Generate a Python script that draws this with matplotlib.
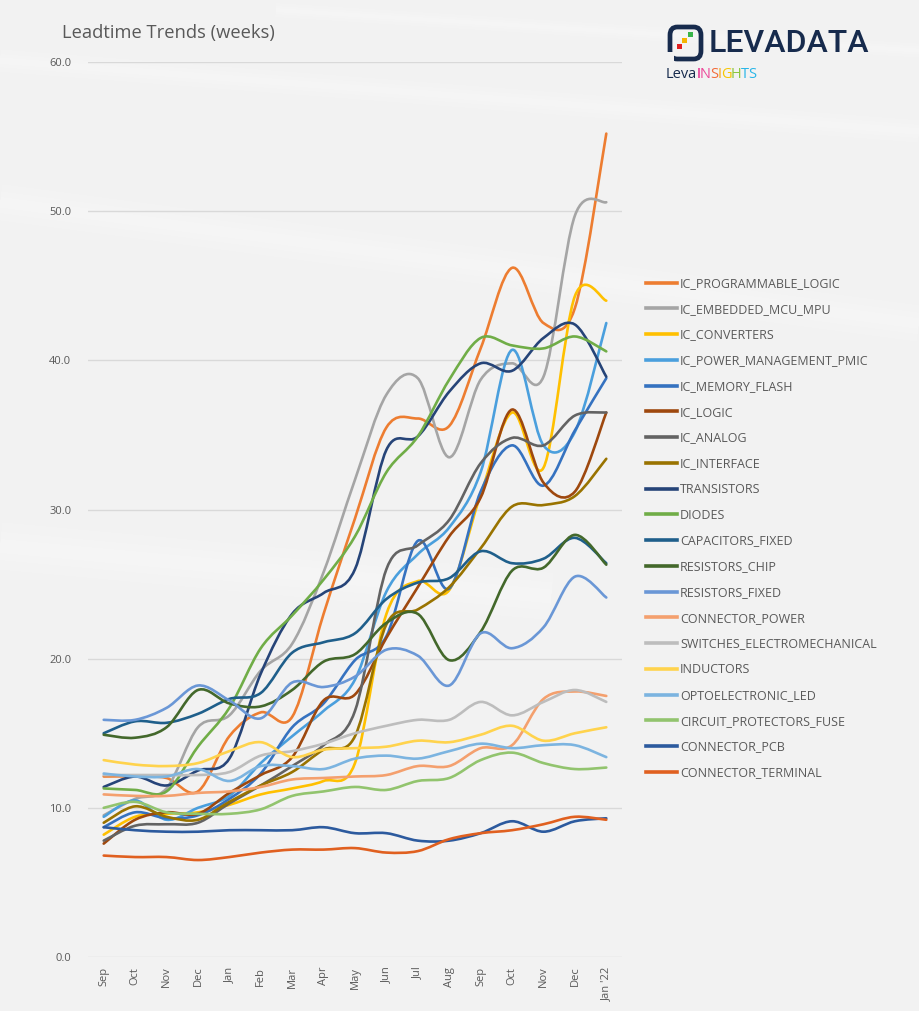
import numpy as np
import matplotlib
matplotlib.use('Agg')
import matplotlib.pyplot as plt
from matplotlib.path import Path
from matplotlib.patches import PathPatch, FancyBboxPatch, Rectangle
from matplotlib.lines import Line2D
from matplotlib.offsetbox import TextArea, HPacker, AnnotationBbox

plt.rcParams['font.family'] = ['Open Sans', 'DejaVu Sans']

months = ['Sep', 'Oct', 'Nov', 'Dec', 'Jan', 'Feb', 'Mar', 'Apr', 'May', 'Jun',
          'Jul', 'Aug', 'Sep', 'Oct', 'Nov', 'Dec', "Jan '22"]

names = ['IC_PROGRAMMABLE_LOGIC', 'IC_EMBEDDED_MCU_MPU', 'IC_CONVERTERS',
         'IC_POWER_MANAGEMENT_PMIC', 'IC_MEMORY_FLASH', 'IC_LOGIC', 'IC_ANALOG',
         'IC_INTERFACE', 'TRANSISTORS', 'DIODES', 'CAPACITORS_FIXED',
         'RESISTORS_CHIP', 'RESISTORS_FIXED', 'CONNECTOR_POWER',
         'SWITCHES_ELECTROMECHANICAL', 'INDUCTORS', 'OPTOELECTRONIC_LED',
         'CIRCUIT_PROTECTORS_FUSE', 'CONNECTOR_PCB', 'CONNECTOR_TERMINAL']

colors = ['#ED7D31', '#A5A5A5', '#FFC000', '#4A9FDD', '#3572C0', '#9E480E',
          '#636363', '#997300', '#264478', '#70AD47', '#1F5F8B', '#43682B',
          '#6A97D6', '#F4A06E', '#BDBDBD', '#FFD34D', '#7CB4E0', '#92C46E',
          '#2C5A9E', '#E06020']

# weeks, one value per month
ic_programmable_logic = [12.1, 12.1, 12.0, 11.1, 14.8, 16.4, 16.1, 23.0, 29.4, 35.5, 36.1, 35.6, 40.8, 46.2, 42.5, 43.5, 55.2]
ic_embedded_mcu_mpu = [9.5, 10.6, 11.3, 15.4, 16.2, 19.2, 21.0, 25.8, 32.0, 37.7, 38.8, 33.5, 38.7, 39.8, 38.9, 49.7, 50.6]
ic_converters = [8.2, 9.4, 9.6, 9.7, 10.2, 10.9, 11.3, 11.8, 13.0, 23.0, 25.2, 24.6, 31.0, 36.5, 32.8, 44.3, 44.0]
ic_power_management_pmic = [9.4, 10.5, 9.2, 10.0, 10.8, 13.0, 14.8, 16.5, 18.6, 24.5, 27.0, 28.8, 32.5, 40.7, 34.3, 35.2, 42.5]
ic_memory_flash = [8.7, 9.7, 9.3, 9.5, 10.6, 12.3, 15.4, 17.0, 19.9, 21.5, 27.9, 24.7, 31.2, 34.3, 31.6, 35.3, 38.8]
ic_logic = [7.6, 9.2, 9.7, 9.6, 11.0, 12.2, 13.4, 17.2, 17.6, 21.4, 24.8, 28.2, 30.8, 36.7, 31.8, 31.2, 36.5]
ic_analog = [7.8, 8.8, 8.9, 9.0, 10.3, 11.5, 12.8, 14.2, 16.5, 26.0, 27.6, 29.3, 33.1, 34.8, 34.3, 36.3, 36.5]
ic_interface = [9.0, 10.1, 9.4, 9.2, 10.4, 11.5, 12.4, 13.9, 14.8, 22.3, 23.3, 24.8, 27.4, 30.2, 30.3, 30.9, 33.4]
transistors = [11.4, 12.1, 11.5, 12.5, 13.3, 19.0, 23.0, 24.4, 26.0, 34.0, 34.9, 37.9, 39.8, 39.3, 41.5, 42.4, 38.9]
diodes = [11.3, 11.2, 11.1, 14.1, 16.7, 20.7, 22.9, 25.3, 28.2, 32.5, 34.9, 38.7, 41.5, 41.0, 40.8, 41.6, 40.6]
capacitors_fixed = [15.0, 15.8, 15.7, 16.3, 17.3, 17.7, 20.4, 21.1, 21.7, 24.0, 25.1, 25.4, 27.2, 26.4, 26.7, 28.1, 26.4]
resistors_chip = [14.9, 14.7, 15.4, 17.9, 17.0, 16.8, 17.9, 19.8, 20.3, 22.4, 23.0, 19.9, 21.8, 25.9, 26.1, 28.3, 26.3]
resistors_fixed = [15.9, 15.9, 16.7, 18.2, 17.2, 16.0, 18.4, 18.1, 18.8, 20.6, 20.2, 18.2, 21.7, 20.7, 22.1, 25.5, 24.1]
connector_power = [10.9, 10.8, 10.8, 11.0, 11.1, 11.4, 11.9, 12.0, 12.1, 12.2, 12.8, 12.8, 14.0, 14.2, 17.3, 17.8, 17.5]
switches_electromechanical = [12.2, 12.2, 12.2, 12.2, 12.4, 13.5, 13.8, 14.3, 15.0, 15.5, 15.9, 15.9, 17.1, 16.2, 17.1, 17.9, 17.1]
inductors = [13.2, 12.9, 12.8, 13.0, 13.8, 14.4, 13.4, 13.9, 14.0, 14.1, 14.5, 14.4, 14.9, 15.5, 14.5, 15.0, 15.4]
optoelectronic_led = [12.3, 12.1, 12.1, 12.6, 11.8, 12.8, 12.8, 12.6, 13.3, 13.5, 13.3, 13.8, 14.3, 14.0, 14.2, 14.2, 13.4]
circuit_protectors_fuse = [10.0, 10.4, 9.7, 9.6, 9.6, 9.9, 10.8, 11.1, 11.4, 11.2, 11.8, 12.0, 13.2, 13.7, 13.0, 12.6, 12.7]
connector_pcb = [8.7, 8.5, 8.4, 8.4, 8.5, 8.5, 8.5, 8.7, 8.3, 8.3, 7.8, 7.8, 8.3, 9.1, 8.4, 9.1, 9.3]
connector_terminal = [6.8, 6.7, 6.7, 6.5, 6.7, 7.0, 7.2, 7.2, 7.3, 7.0, 7.1, 7.9, 8.3, 8.5, 8.9, 9.4, 9.2]

series = [ic_programmable_logic, ic_embedded_mcu_mpu, ic_converters,
          ic_power_management_pmic, ic_memory_flash, ic_logic, ic_analog,
          ic_interface, transistors, diodes, capacitors_fixed, resistors_chip,
          resistors_fixed, connector_power, switches_electromechanical,
          inductors, optoelectronic_led, circuit_protectors_fuse,
          connector_pcb, connector_terminal]


def smooth_path(values):
    """bezier path through the points, like the 'smoothed line' option in excel"""
    pts = np.column_stack([np.arange(len(values), dtype=float),
                           np.asarray(values, dtype=float)])
    n = len(pts)
    verts = [pts[0]]
    codes = [Path.MOVETO]
    for i in range(n - 1):
        p0 = pts[max(i - 1, 0)]
        p1 = pts[i]
        p2 = pts[i + 1]
        p3 = pts[min(i + 2, n - 1)]
        verts += [p1 + (p2 - p0) / 6.0, p2 - (p3 - p1) / 6.0, p2]
        codes += [Path.CURVE4] * 3
    return Path(verts, codes)


fig = plt.figure(figsize=(9.19, 10.11), dpi=100, facecolor='#f2f2f2')

# soft light streaks of the background
bg = fig.add_axes([0, 0, 1, 1], zorder=-10)
bg.set_xlim(0, 1)
bg.set_ylim(0, 1)
bg.axis('off')
for x0, y0, x1, y1, w in [(0.0, 0.80, 1.0, 0.68, 26),
                          (0.0, 0.94, 1.0, 0.87, 16),
                          (0.0, 0.46, 0.6, 0.41, 34),
                          (0.3, 0.99, 1.0, 0.95, 10)]:
    for k in (1.0, 0.6, 0.3):
        bg.plot([x0, x1], [y0, y1], color='white', lw=w * k, alpha=0.13,
                solid_capstyle='butt')

ax = fig.add_axes([88 / 919, 1 - 957 / 1011, 534 / 919, 895 / 1011])
ax.set_facecolor('none')
ax.set_xlim(-0.5, 16.5)
ax.set_ylim(0, 60)

for vals, c in zip(series, colors):
    ax.add_patch(PathPatch(smooth_path(vals), fill=False, edgecolor=c,
                           lw=1.9, capstyle='round', joinstyle='round'))

ax.set_yticks(np.arange(0, 61, 10))
ax.set_yticklabels(['{:.1f}'.format(v) for v in np.arange(0, 61, 10)])
ax.set_xticks(np.arange(len(months)))
ax.set_xticklabels(months, rotation=90, va='top', ha='center')
ax.tick_params(length=0, labelsize=8, labelcolor='#595959')
ax.tick_params(axis='y', pad=12)
ax.tick_params(axis='x', pad=7)
ax.grid(axis='y', color='#d9d9d9', lw=1.0)
ax.set_axisbelow(True)
for sp in ax.spines.values():
    sp.set_visible(False)

handles = [Line2D([], [], color=c, lw=2.6) for c in colors]
fig.legend(handles, names, loc='upper left', bbox_to_anchor=(646 / 919, 1 - 277 / 1011),
           frameon=False, fontsize=9.0, labelcolor='#595959', handlelength=2.5,
           handletextpad=0.22, labelspacing=1.02, borderpad=0, borderaxespad=0)

fig.text(62 / 919, 1 - 33 / 1011, 'Leadtime Trends (weeks)', fontsize=13.2,
         color='#595959', va='center', ha='left')

# logo
navy = '#172B4D'
fig.patches.append(FancyBboxPatch((670 / 919, 1 - 59 / 1011), 31 / 919, 32 / 1011,
                                  boxstyle='round,pad=0,rounding_size=0.008',
                                  transform=fig.transFigure, fill=False,
                                  edgecolor=navy, lw=3.4))
fig.patches.append(Rectangle((665 / 919, 1 - 63 / 1011), 9 / 919, 11 / 1011,
                             transform=fig.transFigure, facecolor='#f2f2f2',
                             edgecolor='none'))
for (px, py), c in zip([(677, 49), (682, 43), (688, 37)], ['#E02020', '#F5B400', '#39B54A']):
    fig.patches.append(Rectangle((px / 919, 1 - py / 1011), 5 / 919, 5 / 1011,
                                 transform=fig.transFigure, facecolor=c,
                                 edgecolor='none'))
fig.text(709 / 919, 1 - 43 / 1011, 'LEVADATA', fontsize=23, color=navy,
         family='Roboto', weight='medium', va='center', ha='left')

letters = [('Leva', navy), ('I', '#E4007C'), ('N', '#EC4899'), ('S', '#F26B3A'),
           ('I', '#F7A81B'), ('G', '#F7C600'), ('H', '#8CC63F'), ('T', '#29B6E8'),
           ('S', '#29B6E8')]
boxes = [TextArea(t, textprops=dict(color=c, fontsize=10.5, family='Open Sans'))
         for t, c in letters]
logo2 = HPacker(children=boxes, sep=-0.5, pad=0, align='baseline')
fig.add_artist(AnnotationBbox(logo2, (666 / 919, 1 - 75 / 1011), xycoords='figure fraction',
                              box_alignment=(0, 0.5), frameon=False))

fig.savefig('out.png', dpi=100, facecolor=fig.get_facecolor())
